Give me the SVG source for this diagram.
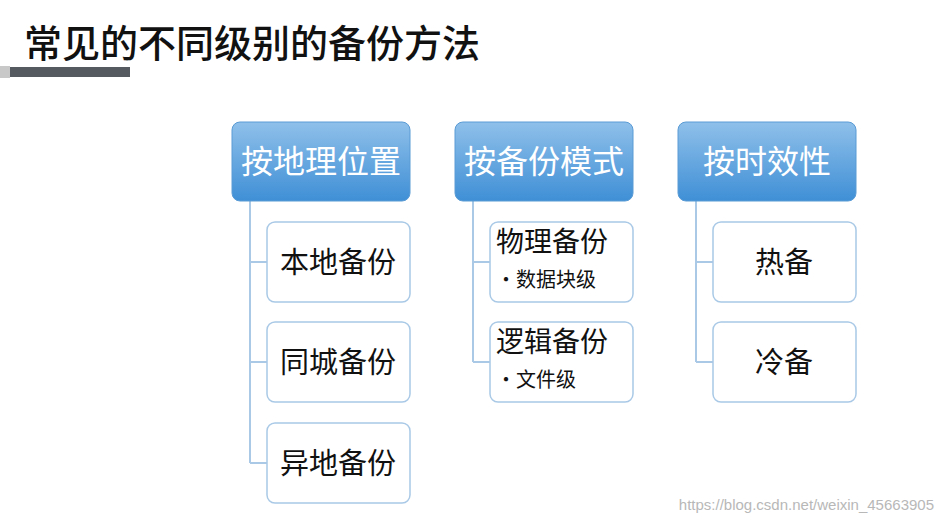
<svg xmlns="http://www.w3.org/2000/svg" width="942" height="523" viewBox="0 0 942 523">
<defs>
<linearGradient id="hg" x1="0" y1="0" x2="0" y2="1">
<stop offset="0" stop-color="#8fc0ea"/><stop offset="1" stop-color="#3f8fd6"/>
</linearGradient>
</defs>
<style>
.h{fill:url(#hg);stroke:#5a9bd5;stroke-width:1}
.c{fill:#fff;stroke:#a9c9e6;stroke-width:1.5}
.ht{font-family:"Noto Sans CJK SC",sans-serif;font-size:32px;fill:#fff;text-anchor:middle}
.ct{font-family:"Noto Sans CJK SC",sans-serif;font-size:29px;fill:#111;text-anchor:middle}
.ct2{font-family:"Noto Sans CJK SC",sans-serif;font-size:28px;fill:#111}
.st{font-family:"Noto Sans CJK SC",sans-serif;font-size:20px;fill:#111}
.ln{stroke:#a9c9e6;stroke-width:2;fill:none}
</style>
<rect width="942" height="523" fill="#fff"/>
<text x="24" y="57" font-family="'Noto Sans CJK SC',sans-serif" font-size="38" font-weight="500" fill="#111">常见的不同级别的备份方法</text>
<rect x="0" y="66" width="10" height="12" fill="#c8c8c8"/>
<rect x="10" y="67" width="120" height="10" fill="#555a60"/>
<g id="connectors">
<path class="ln" d="M250 201V463M250 262H267M250 362H267M250 463H267"/>
<path class="ln" d="M473 201V362M473 262H490M473 362H490"/>
<path class="ln" d="M696 201V362M696 262H713M696 362H713"/>
</g>
<g id="h1"><rect class="h" x="232" y="122" width="178" height="79" rx="8"/><text class="ht" x="321" y="173">按地理位置</text></g>
<g id="h2"><rect class="h" x="455" y="122" width="178" height="79" rx="8"/><text class="ht" x="544" y="173">按备份模式</text></g>
<g id="h3"><rect class="h" x="678" y="122" width="178" height="79" rx="8"/><text class="ht" x="767" y="173">按时效性</text></g>
<g id="c1"><rect class="c" x="267" y="222" width="143" height="80" rx="8"/><text class="ct" x="338" y="273">本地备份</text></g>
<g id="c2"><rect class="c" x="267" y="322" width="143" height="80" rx="8"/><text class="ct" x="338" y="373">同城备份</text></g>
<g id="c3"><rect class="c" x="267" y="423" width="143" height="80" rx="8"/><text class="ct" x="338" y="474">异地备份</text></g>
<g id="c4"><rect class="c" x="490" y="222" width="143" height="80" rx="8"/><text class="ct2" x="496" y="252">物理备份</text><text class="st" x="496" y="287">•数据块级</text></g>
<g id="c5"><rect class="c" x="490" y="322" width="143" height="80" rx="8"/><text class="ct2" x="496" y="352">逻辑备份</text><text class="st" x="496" y="387">•文件级</text></g>
<g id="c6"><rect class="c" x="713" y="222" width="143" height="80" rx="8"/><text class="ct" x="784" y="273">热备</text></g>
<g id="c7"><rect class="c" x="713" y="322" width="143" height="80" rx="8"/><text class="ct" x="784" y="373">冷备</text></g>
<text x="934" y="510" text-anchor="end" font-family="'Liberation Sans',sans-serif" font-size="15" fill="#b8b8b8">https://blog.csdn.net/weixin_45663905</text>
</svg>
